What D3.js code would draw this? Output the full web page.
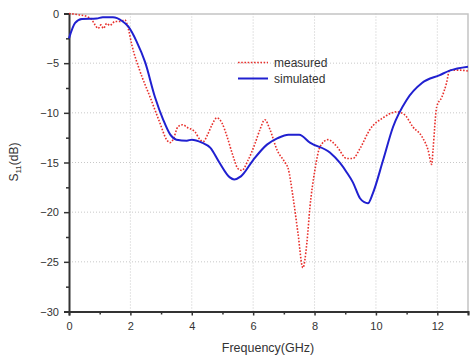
<!DOCTYPE html>
<html>
<head>
<meta charset="utf-8">
<script src="https://cdn.jsdelivr.net/npm/d3@7"></script>
<style>
body { margin: 0; background: #fff; }
text { font-family: "Liberation Sans", Arial, sans-serif; fill: #333; }
</style>
</head>
<body>
<svg></svg>
<script>
var screen = {width: 470, height: 356};
var margins = {top: 13.5, right: 2, bottom: 44.5, left: 69};

// simulated curve
var simFreq = [0, 0.2, 0.42, 0.9, 1.1, 1.43, 1.73, 1.93, 2.2, 2.48, 2.8, 3.07, 3.3, 3.5, 3.84, 4.0, 4.33, 4.6, 4.9, 5.24, 5.38, 5.6, 6.0, 6.45, 6.8, 7.15, 7.5, 7.85, 8.5, 8.83, 9.05, 9.25, 9.48, 9.62, 9.74, 9.9, 10.23, 10.56, 11.0, 11.5, 12.08, 12.4, 13.0];
var simS11 = [-2.5, -0.95, -0.55, -0.5, -0.38, -0.38, -0.75, -1.3, -2.8, -4.9, -8.4, -10.7, -12.2, -12.7, -12.8, -12.7, -13.0, -13.5, -15.0, -16.5, -16.7, -16.4, -14.75, -13.2, -12.55, -12.2, -12.2, -13.0, -14.0, -15.05, -16.0, -17.0, -18.6, -19.0, -19.1, -18.1, -14.8, -11.4, -8.7, -7.0, -6.2, -5.75, -5.35];

// measured curve
var measFreq = [0, 0.36, 0.58, 0.75, 0.85, 0.95, 1.04, 1.12, 1.23, 1.33, 1.5, 1.66, 1.82, 1.93, 2.05, 2.3, 2.64, 2.96, 3.18, 3.29, 3.39, 3.55, 3.7, 3.87, 4.1, 4.27, 4.37, 4.53, 4.66, 4.82, 4.98, 5.15, 5.35, 5.5, 5.63, 5.83, 6.06, 6.22, 6.38, 6.55, 6.78, 7.04, 7.14, 7.3, 7.46, 7.62, 7.75, 7.85, 8.01, 8.18, 8.44, 8.73, 9.05, 9.25, 9.48, 9.8, 10.23, 10.68, 10.94, 11.2, 11.5, 11.7, 11.82, 11.86, 11.98, 12.15, 12.3, 12.4, 12.73, 13.0];
var measS11 = [0, -0.15, -0.3, -0.65, -1.15, -1.5, -1.15, -1.5, -1.0, -1.2, -0.8, -0.8, -0.65, -1.5, -3.2, -5.7, -8.4, -11, -12.7, -13, -12.7, -11.4, -11.2, -11.5, -11.9, -12.7, -12.9, -12.1, -11.2, -10.5, -11, -12.4, -14.4, -15.6, -15.8, -14.8, -13.1, -11.7, -10.7, -11.7, -13.75, -15.0, -15.6, -18.5, -22.1, -25.6, -23.1, -19.5, -15.8, -13.4, -12.7, -13.4, -14.6, -14.6, -13.6, -11.7, -10.5, -9.9, -10.2, -11.4, -12.4, -13.75, -15.2, -13.75, -9.4, -8.4, -7.0, -5.7, -5.7, -5.8];

var xTicks = [0, 2, 4, 6, 8, 10, 12];
var xMinor = [1, 3, 5, 7, 9, 11, 13];
var yTicks = [0, -5, -10, -15, -20, -25, -30];
var yMinor = [-2.5, -7.5, -12.5, -17.5, -22.5, -27.5];
var legendNames = ["measured", "simulated"];

var width = screen.width - margins.left - margins.right;
var height = screen.height - margins.top - margins.bottom;

var svg = d3.select("svg")
    .attr("width", screen.width)
    .attr("height", screen.height);

var xScale = d3.scaleLinear().domain([0, 13]).range([0, 399]);
var yScale = d3.scaleLinear().domain([-30, 0]).range([height, 0]);

var graph = svg.append("g")
    .attr("transform", "translate(" + margins.left + "," + margins.top + ")");

// dotted grid
graph.append("g")
    .selectAll("line")
    .data(xTicks.slice(1))
    .enter()
    .append("line")
    .attr("x1", function(d){return xScale(d);})
    .attr("x2", function(d){return xScale(d);})
    .attr("y1", 0)
    .attr("y2", height)
    .attr("stroke", "#c8c8c8")
    .attr("stroke-dasharray", "1,2");

graph.append("g")
    .selectAll("line")
    .data(yTicks.slice(1, -1))
    .enter()
    .append("line")
    .attr("x1", 0)
    .attr("x2", xScale(13))
    .attr("y1", function(d){return yScale(d);})
    .attr("y2", function(d){return yScale(d);})
    .attr("stroke", "#c8c8c8")
    .attr("stroke-dasharray", "1,2");

// top and right frame
graph.append("path")
    .attr("d", "M0,0.5H" + xScale(13) + "V" + height)
    .attr("fill", "none")
    .attr("stroke", "#c4c4c4")
    .attr("stroke-width", 1.5);

// axes
var xAxis = graph.append("g")
    .attr("transform", "translate(0," + height + ")")
    .call(d3.axisBottom(xScale).tickValues(xTicks).tickSize(4).tickFormat(d3.format("d")));
graph.append("g")
    .attr("transform", "translate(0," + height + ")")
    .call(d3.axisBottom(xScale).tickValues(xMinor).tickSize(3).tickFormat(""))
    .select(".domain").remove();

var yAxis = graph.append("g")
    .call(d3.axisLeft(yScale).tickValues(yTicks).tickSize(5).tickFormat(d3.format("d")));
graph.append("g")
    .call(d3.axisLeft(yScale).tickValues(yMinor).tickSize(3).tickFormat(""))
    .select(".domain").remove();

graph.selectAll(".domain").attr("stroke", "#333").attr("stroke-width", 2);
graph.selectAll(".tick line").attr("stroke", "#333").attr("stroke-width", 1.5);
graph.selectAll(".tick text")
    .style("font-family", "'Liberation Sans', Arial, sans-serif")
    .style("font-size", "11px")
    .attr("fill", "#333");
xAxis.selectAll(".tick text").attr("dy", "1.05em");
yAxis.selectAll(".tick text").attr("x", -10);

// curves
var simLine = d3.line()
    .x(function(d){return xScale(d[0]);})
    .y(function(d){return yScale(d[1]);})
    .curve(d3.curveMonotoneX);

var measLine = d3.line()
    .x(function(d){return xScale(d[0]);})
    .y(function(d){return yScale(d[1]);})
    .curve(d3.curveMonotoneX);

graph.append("path")
    .datum(measFreq.map(function(f, i){return [f, measS11[i]];}))
    .attr("d", measLine)
    .attr("fill", "none")
    .attr("stroke", "#e8302c")
    .attr("stroke-width", 1.6)
    .attr("stroke-dasharray", "1.6,1.6");

graph.append("path")
    .datum(simFreq.map(function(f, i){return [f, simS11[i]];}))
    .attr("d", simLine)
    .attr("fill", "none")
    .attr("stroke", "#2020d0")
    .attr("stroke-width", 2);

// legend
var legend = svg.append("g");
legend.selectAll("line")
    .data(legendNames)
    .enter()
    .append("line")
    .attr("x1", 238)
    .attr("x2", 268)
    .attr("y1", function(d, i){return 62.5 + i * 16;})
    .attr("y2", function(d, i){return 62.5 + i * 16;})
    .attr("stroke", function(d, i){return i == 0 ? "#e8302c" : "#2020d0";})
    .attr("stroke-width", function(d, i){return i == 0 ? 1.6 : 2;})
    .attr("stroke-dasharray", function(d, i){return i == 0 ? "1.6,1.6" : null;});
legend.selectAll("text")
    .data(legendNames)
    .enter()
    .append("text")
    .attr("x", 274)
    .attr("y", function(d, i){return 66.5 + i * 16;})
    .style("font-size", "12px")
    .text(function(d){return d;});

// axis titles
svg.append("text")
    .attr("x", 268)
    .attr("y", 352)
    .attr("text-anchor", "middle")
    .style("font-size", "12.5px")
    .text("Frequency(GHz)");

var yTitle = svg.append("text")
    .attr("transform", "translate(18,162) rotate(-90)")
    .attr("text-anchor", "middle")
    .style("font-size", "12px");
yTitle.append("tspan").text("S");
yTitle.append("tspan").attr("dy", 3).style("font-size", "8px").text("11");
yTitle.append("tspan").attr("dy", -3).text("(dB)");
</script>
</body>
</html>
